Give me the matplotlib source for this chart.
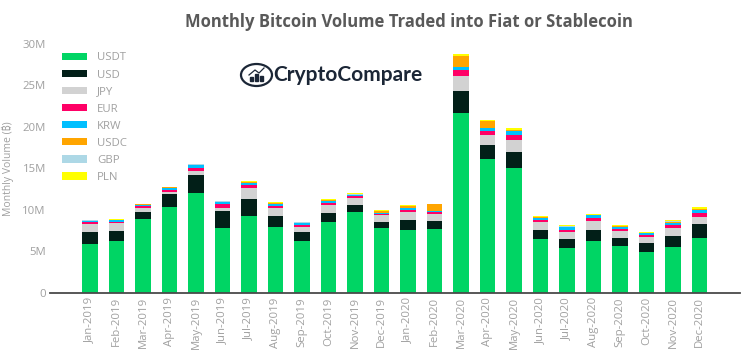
import matplotlib
matplotlib.use("Agg")
import matplotlib.pyplot as plt
import numpy as np
from matplotlib.patches import Ellipse

plt.rcParams['font.family'] = ['Open Sans', 'DejaVu Sans']

months = ['Jan-2019', 'Feb-2019', 'Mar-2019', 'Apr-2019', 'May-2019', 'Jun-2019',
          'Jul-2019', 'Aug-2019', 'Sep-2019', 'Oct-2019', 'Nov-2019', 'Dec-2019',
          'Jan-2020', 'Feb-2020', 'Mar-2020', 'Apr-2020', 'May-2020', 'Jun-2020',
          'Jul-2020', 'Aug-2020', 'Sep-2020', 'Oct-2020', 'Nov-2020', 'Dec-2020']

# values in millions of BTC
usdt = [5.9, 6.2, 8.9, 10.3, 12.0, 7.8, 9.24, 7.96, 6.24, 8.48, 9.72, 7.76,
        7.6, 7.68, 21.64, 16.08, 15.0, 6.48, 5.44, 6.28, 5.64, 4.96, 5.52, 6.64]
usd = [1.4, 1.24, 0.88, 1.55, 2.16, 2.0, 2.12, 1.28, 1.04, 1.12, 0.88, 0.8,
       1.12, 1.0, 2.64, 1.76, 1.92, 1.08, 1.0, 1.28, 1.0, 1.04, 1.32, 1.64]
jpy = [0.95, 0.92, 0.48, 0.25, 0.48, 0.48, 1.24, 1.04, 0.68, 1.0, 0.8, 0.76,
       0.96, 0.8, 1.84, 1.12, 1.52, 0.96, 0.92, 1.12, 0.84, 0.72, 0.92, 0.84]
eur = [0.28, 0.2, 0.2, 0.3, 0.44, 0.4, 0.4, 0.24, 0.2, 0.24, 0.24, 0.2,
       0.28, 0.24, 0.64, 0.48, 0.52, 0.28, 0.24, 0.28, 0.2, 0.24, 0.4, 0.48]
krw = [0.15, 0.16, 0.15, 0.28, 0.28, 0.24, 0.24, 0.2, 0.2, 0.2, 0.12, 0.08,
       0.24, 0.16, 0.36, 0.4, 0.48, 0.24, 0.32, 0.36, 0.24, 0.2, 0.28, 0.4]
usdc = [0.03, 0.03, 0.04, 0.04, 0.06, 0.05, 0.06, 0.06, 0.08, 0.14, 0.06, 0.2,
        0.28, 0.8, 1.32, 0.84, 0.12, 0.06, 0.06, 0.06, 0.08, 0.04, 0.08, 0.08]
gbp = [0.04, 0.04, 0.05, 0.04, 0.06, 0.05, 0.06, 0.06, 0.04, 0.04, 0.06, 0.08,
       0.04, 0.02, 0.06, 0.04, 0.06, 0.06, 0.06, 0.04, 0.06, 0.04, 0.08, 0.08]
pln = [0.07, 0.06, 0.06, 0.04, 0.08, 0.08, 0.14, 0.12, 0.08, 0.06, 0.12, 0.12,
       0.08, 0.06, 0.18, 0.12, 0.18, 0.08, 0.08, 0.06, 0.1, 0.08, 0.12, 0.16]

series = [('USDT', usdt, '#00d564'), ('USD', usd, '#021f18'), ('JPY', jpy, '#d2d2d2'),
          ('EUR', eur, '#ff0066'), ('KRW', krw, '#00bfff'), ('USDC', usdc, '#ffa500'),
          ('GBP', gbp, '#add8e6'), ('PLN', pln, '#ffff00')]

W, H = 746, 360
fig = plt.figure(figsize=(W / 100, H / 100), dpi=100)
# axes box in pixels: x 50-740, y 43.5-293
ax = fig.add_axes([50 / W, (H - 293) / H, 690 / W, 249.5 / H])

x = np.arange(len(months))
bottom = np.zeros(len(months))
for name, vals, col in series:
    ax.bar(x, vals, 0.6, bottom=bottom, color=col, label=name, linewidth=0)
    bottom += np.array(vals)

ax.set_xlim(-1.51, 24.53)
ax.set_ylim(0, 30)
ax.set_yticks([0, 5, 10, 15, 20, 25, 30])
ax.set_yticklabels(['0', '5M', '10M', '15M', '20M', '25M', '30M'])
ax.set_xticks(x)
ax.set_xticklabels(months, rotation=90)
ax.tick_params(axis='both', length=0, labelcolor='#a0a0a0', labelsize=8.2)
ax.tick_params(axis='x', pad=3)
ax.tick_params(axis='y', pad=3)
for s in ['top', 'right', 'left']:
    ax.spines[s].set_visible(False)
ax.spines['bottom'].set_color('#4a4a4a')
ax.spines['bottom'].set_linewidth(1.3)

fig.text(8 / W, (H - 169) / H, 'Monthly Volume (₿)', rotation=90, color='#a0a0a0',
         fontsize=7.5, ha='center', va='center',
         family=['Open Sans', 'Noto Sans', 'Roboto', 'Inter', 'Lato', 'Liberation Sans', 'DejaVu Sans'])
fig.text(409 / W, (H - 22) / H, 'Monthly Bitcoin Volume Traded into Fiat or Stablecoin',
         color='#595959', fontsize=12, fontweight='bold', ha='center', va='center')

ax.legend(loc='upper left', bbox_to_anchor=(12 / 690, 1 - 9 / 249.5), frameon=False,
          fontsize=8.2, labelcolor='#a0a0a0', handlelength=2.2, handleheight=0.65,
          labelspacing=0.53, handletextpad=0.9, borderpad=0, borderaxespad=0)

# logo
logo = '#1b2636'
fig.text(273 / W, (H - 75) / H, 'CryptoCompare', color=logo, fontsize=15,
         fontweight='bold', ha='left', va='center', family=['Lato', 'DejaVu Sans'])
fig.add_artist(Ellipse((256.5 / W, (H - 75) / H), 31 / W, 22 / H, fill=False,
                       edgecolor=logo, linewidth=1.6, transform=fig.transFigure))
for bx, bh in zip([250, 255, 260], [4, 7, 5]):
    fig.add_artist(plt.Rectangle((bx / W, (H - 81) / H), 3 / W, bh / H, color=logo,
                                 transform=fig.transFigure))
fig.add_artist(plt.Line2D(np.array([249, 255, 259, 264]) / W, (H - np.array([75, 70, 73, 68])) / H,
                          color=logo, linewidth=0.9, transform=fig.transFigure))

fig.savefig('out.png', dpi=100)
